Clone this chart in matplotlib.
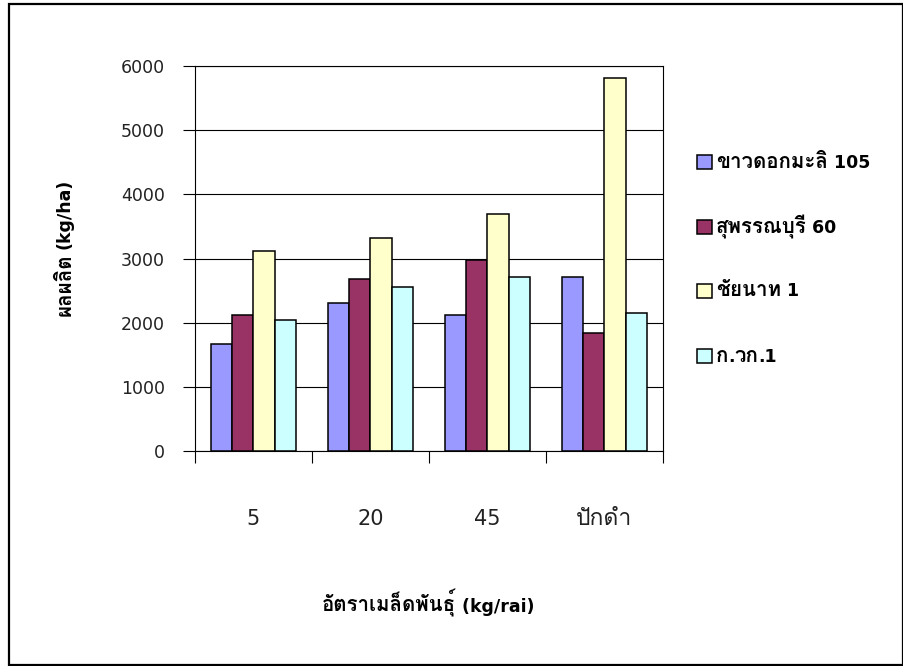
import matplotlib
matplotlib.use("Agg")
import matplotlib.pyplot as plt
from matplotlib import font_manager
from matplotlib.ft2font import FT2Font
from matplotlib.patches import Rectangle
from matplotlib.offsetbox import TextArea, HPacker, DrawingArea, AnchoredOffsetbox
import numpy as np

# Data
categories = ["5", "20", "45", "ปักดำ"]
series_names = ["ขาวดอกมะลิ 105", "สุพรรณบุรี 60", "ชัยนาท 1", "ก.วก.1"]
khao_dok_mali = [1660, 2300, 2120, 2710]
suphanburi = [2120, 2680, 2970, 1840]
chainat = [3110, 3320, 3700, 5820]
kor_wor_kor = [2040, 2560, 2710, 2150]
yticks = [0, 1000, 2000, 3000, 4000, 5000, 6000]
colors = ["#9999FF", "#993366", "#FFFFCC", "#CCFFFF"]


def find_thai_family():
    seen = set()
    for f in font_manager.fontManager.ttflist:
        if f.name in seen:
            continue
        seen.add(f.name)
        try:
            cmap = FT2Font(f.fname).get_charmap()
        except Exception:
            continue
        if 0x0E01 in cmap and 0x0E33 in cmap:
            return f.name
    return None


THAI = find_thai_family() or "DejaVu Sans"
LATIN = "DejaVu Sans"
THAI_SCALE = 1.18          # Thai glyphs of the fallback face run small
BASE = 12.5
XTICK = 15
plt.rcParams["font.family"] = [LATIN, THAI]


def is_thai(ch):
    return 0x0E00 <= ord(ch) <= 0x0E7F


def split_runs(s):
    runs = []
    for ch in s:
        t = is_thai(ch)
        if runs and runs[-1][1] == t:
            runs[-1][0] += ch
        else:
            runs.append([ch, t])
    return runs


def mixed_text(s, size, weight="normal", color="black"):
    kids = []
    for txt, t in split_runs(s):
        props = dict(family=THAI if t else LATIN,
                     size=size * THAI_SCALE if t else size,
                     weight=weight, color=color)
        kids.append(TextArea(txt, textprops=props))
    return HPacker(children=kids, align="baseline", pad=0, sep=0)


W, H = 904, 666
fig = plt.figure(figsize=(W / 100, H / 100), dpi=100)


def fx(px):
    return px / W


def fy(py):
    return 1 - py / H


# outer frame of the chart area
fig.add_artist(Rectangle((fx(9), fy(665)), (903 - 9) / W, (665 - 4) / H,
                         transform=fig.transFigure, fill=False,
                         edgecolor="black", linewidth=1.6))

ax = fig.add_axes([fx(195), fy(451), (663 - 195) / W, (451 - 66) / H])

series = [khao_dok_mali, suphanburi, chainat, kor_wor_kor]
x = np.arange(len(categories))
bw = 1 / 5.5
for i, (vals, col, name) in enumerate(zip(series, colors, series_names)):
    ax.bar(x - 2 * bw + (i + 0.5) * bw, vals, width=bw, color=col,
           edgecolor="black", linewidth=1.1, zorder=3, label=name)

ax.set_xlim(-0.5, len(categories) - 0.5)
ax.set_ylim(0, 6000)
ax.set_yticks(yticks)
ax.set_yticklabels([str(v) for v in yticks])
ax.yaxis.grid(True, color="black", linewidth=0.8, zorder=0)
ax.set_axisbelow(True)

# category boundary ticks below the axis, labels centred in each category
ax.set_xticks(np.arange(len(categories) + 1) - 0.5)
ax.set_xticklabels([""] * (len(categories) + 1))
ax.set_xticks(x, minor=True)
ax.set_xticklabels(categories, minor=True, fontsize=XTICK, color="#222222")
for lbl in ax.get_xticklabels(minor=True):
    if any(is_thai(c) for c in lbl.get_text()):
        lbl.set_fontfamily(THAI)
        lbl.set_fontsize(16.5)
ax.tick_params(axis="x", which="major", length=8.6, width=0.8, direction="out")
ax.tick_params(axis="x", which="minor", length=0, pad=42)
ax.tick_params(axis="y", which="major", length=8.6, width=0.8, direction="out",
               pad=13, labelsize=BASE, labelcolor="#222222")

for s in ax.spines.values():
    s.set_color("black")
    s.set_linewidth(0.8)

# y-axis title, Thai part below the unit part (text runs bottom to top)
fig.text(fx(65), fy(253), "ผลผลิต", rotation=90, ha="center", va="top",
         family=THAI, fontsize=BASE * THAI_SCALE, fontweight="bold")
fig.text(fx(65), fy(249), "(kg/ha)", rotation=90, ha="center", va="bottom",
         family=LATIN, fontsize=BASE, fontweight="bold")

# x-axis title
fig.add_artist(AnchoredOffsetbox(
    loc="center", child=mixed_text("อัตราเมล็ดพันธุ์ (kg/rai)", BASE, "bold"),
    bbox_to_anchor=(fx(428), fy(603)), bbox_transform=fig.transFigure,
    frameon=False, pad=0, borderpad=0))

# legend rows
row_y = [162, 227, 291, 356]
for name, col, yc in zip(series_names, colors, row_y):
    da = DrawingArea(10.5, 10.5, 0, 0)
    da.add_artist(Rectangle((0, 0), 10.5, 10.5, facecolor=col,
                            edgecolor="black", linewidth=1.1))
    row = HPacker(children=[da, mixed_text(name, BASE, "bold")],
                  align="center", pad=0, sep=3)
    fig.add_artist(AnchoredOffsetbox(
        loc="center left", child=row, bbox_to_anchor=(fx(697), fy(yc)),
        bbox_transform=fig.transFigure, frameon=False, pad=0, borderpad=0))

fig.savefig("out.png", dpi=100)
